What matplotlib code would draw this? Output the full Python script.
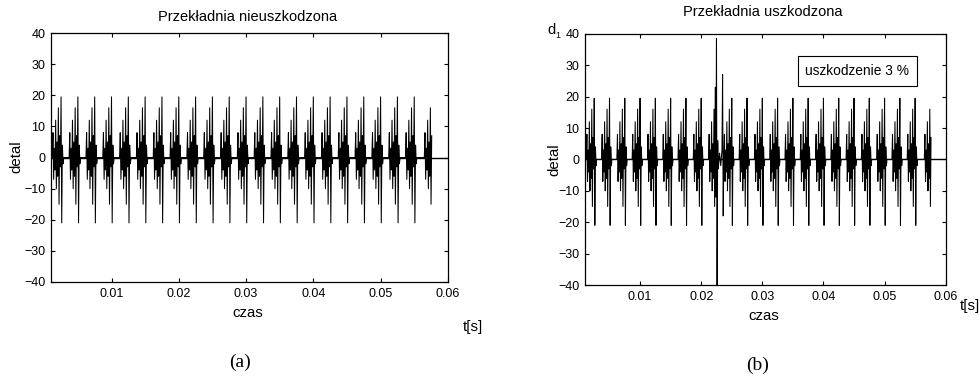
"""Detail d1 of gear vibration signal: healthy vs. damaged gear (3 % damage)."""
import numpy as np
import matplotlib.pyplot as plt
import matplotlib as mpl

mpl.rcParams.update({
    "font.family": "Liberation Sans",
    "font.size": 9,
    "xtick.direction": "in",
    "ytick.direction": "in",
    "xtick.top": True,
    "ytick.right": True,
    "xtick.major.size": 3,
    "ytick.major.size": 3,
    "axes.linewidth": 0.9,
})

# main spike times of each gear-mesh burst [s]
burst_t = [0.0025, 0.0050, 0.0075, 0.0100, 0.0125, 0.0150, 0.0175, 0.0200,
           0.0225, 0.0250, 0.0275, 0.0300, 0.0325, 0.0350, 0.0375, 0.0400,
           0.0425, 0.0450, 0.0475, 0.0500, 0.0525, 0.0550, 0.0578]
# burst shape: offsets [0.1 ms] and amplitude
shape_dt = [-13, -12, -11, -10, -9, -8, -7, -6, -5, -4, -3, -2, -1, 0, 1, 2, 3, 4]
shape_val = [0, 8, -7, 3, -4, 12, -10, 5, -6, 16, -15, 7, -3, 19.5, -21, 4, -2, 0]
# damaged burst in (b) near t = 0.0225 s
damaged_idx = 8
dmg_dt = [-13, -12, -11, -10, -9, -8, -7, -6, -5, -4, -3, -2, -1, 0, 1, 2, 3,
          5, 7, 9, 10, 11, 12, 13]
dmg_val = [0, 8, -7, 3, -4, 12, -10, 5, -6, 16, -15, 23, -12, 38.5, -40, 6, -3,
           2, -2, 3, 27, -18, 2, 0]
t_start, t_end = 0.0010, 0.0576


def build_signal(damaged):
    t, v = [t_start], [0.0]
    for i, tb in enumerate(burst_t):
        if damaged and i == damaged_idx:
            dts, vals = dmg_dt, dmg_val
        else:
            dts, vals = shape_dt, shape_val
        for d, val in zip(dts, vals):
            t.append(tb + d * 1e-4)
            v.append(val)
    t, v = np.array(t), np.array(v)
    keep = (t >= t_start) & (t <= t_end)
    return t[keep], v[keep]


W, H = 980, 376


def fx(px):
    return px / W


def fy(py):
    return 1 - py / H


fig = plt.figure(figsize=(9.8, 3.76), dpi=100)
ax_a = fig.add_axes([0.052, 0.250, 0.405, 0.662])
ax_b = fig.add_axes([0.597, 0.242, 0.368, 0.668])

for ax, damaged in [(ax_a, False), (ax_b, True)]:
    t, v = build_signal(damaged)
    ax.plot(t, v, color="black", lw=0.75)
    ax.axhline(0, color="black", lw=1.0, zorder=1)
    ax.set_xlim(0.001, 0.06)
    ax.set_ylim(-40, 40)
    ax.set_xticks([0.01, 0.02, 0.03, 0.04, 0.05, 0.06])
    ax.set_xticklabels(["0.01", "0.02", "0.03", "0.04", "0.05", "0.06"])
    ax.set_yticks(np.arange(-40, 41, 10))
    ax.tick_params(labelsize=9, pad=4)

# titles and axis labels placed as in the reference
fig.text(fx(248), fy(17), "Przekładnia nieuszkodzona", fontsize=10.5,
         ha="center", va="center")
fig.text(fx(763), fy(12), "Przekładnia uszkodzona", fontsize=10.5,
         ha="center", va="center")
fig.text(fx(248), fy(313), "czas", fontsize=10.8, ha="center", va="center")
fig.text(fx(764), fy(316), "czas", fontsize=10.8, ha="center", va="center")
fig.text(fx(16), fy(157), "detal", fontsize=10.8, rotation=90,
         ha="center", va="center")
fig.text(fx(554), fy(160), "detal", fontsize=10.8, rotation=90,
         ha="center", va="center")

fig.text(fx(473), fy(327), "t[s]", fontsize=10.8, ha="center", va="center")
fig.text(fx(970), fy(306), "t[s]", fontsize=10.8, ha="center", va="center")
fig.text(fx(551), fy(30), "d", fontsize=10.5, ha="center", va="center")
fig.text(fx(557.5), fy(35), "1", fontsize=6.5, ha="center", va="center")

ax_b.text(0.755, 0.852, "uszkodzenie 3 %", transform=ax_b.transAxes,
          ha="center", va="center", fontsize=9.9,
          bbox=dict(boxstyle="square,pad=0.55", fc="white", ec="black", lw=0.8))

fig.text(fx(240), fy(362), "(a)", fontsize=14, family="Liberation Serif",
         ha="center", va="center")
fig.text(fx(758), fy(365), "(b)", fontsize=14, family="Liberation Serif",
         ha="center", va="center")

fig.savefig("out.png", dpi=100)
plt.close(fig)
